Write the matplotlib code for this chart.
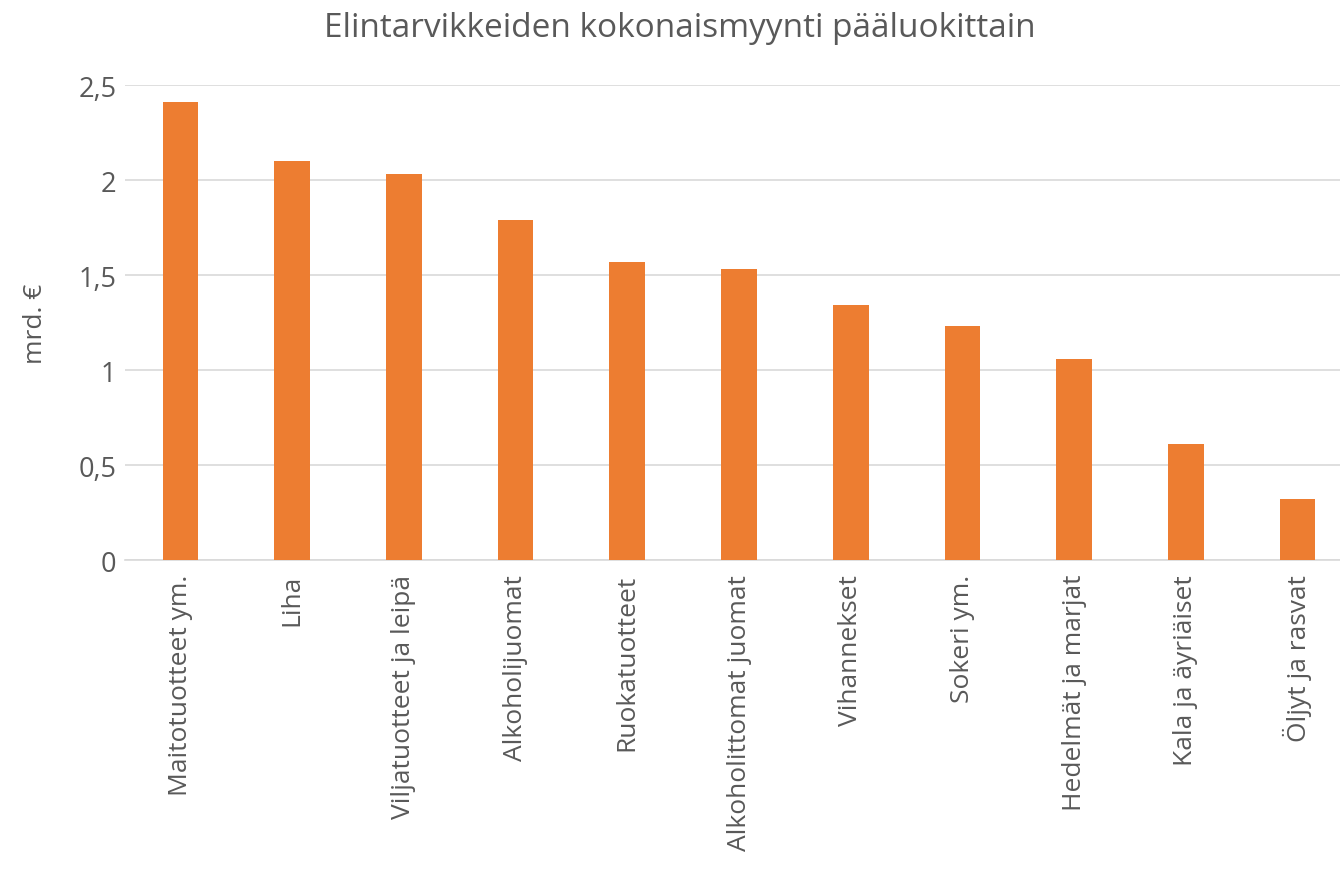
import matplotlib.pyplot as plt
from matplotlib.ticker import FuncFormatter

categories = ["Maitotuotteet ym.", "Liha", "Viljatuotteet ja leipä", "Alkoholijuomat",
              "Ruokatuotteet", "Alkoholittomat juomat", "Vihannekset", "Sokeri ym.",
              "Hedelmät ja marjat", "Kala ja äyriäiset", "Öljyt ja rasvat"]
values = [2.41, 2.10, 2.03, 1.79, 1.57, 1.53, 1.34, 1.23, 1.06, 0.61, 0.32]
yticks = [0, 0.5, 1, 1.5, 2, 2.5]

plt.rcParams['font.family'] = ['Open Sans', 'DejaVu Sans']
txt = '#595959'

fig = plt.figure(figsize=(13.4, 8.78), dpi=100)
# the plot area runs a little past the right edge of the picture
ax = fig.add_axes([0.093, 0.361, 0.917, 0.541])

x = range(len(categories))
ax.bar(x, values, width=0.32, color='#ED7D31', zorder=3)
ax.set_xlim(-0.5, len(categories) - 0.5)
ax.set_ylim(0, 2.5)
ax.set_yticks(yticks)
ax.yaxis.set_major_formatter(FuncFormatter(lambda v, p: f"{v:g}".replace('.', ',')))
ax.set_xticks(list(x))
ax.set_xticklabels(categories, rotation=90, fontsize=19, color=txt)
ax.tick_params(axis='y', labelsize=19.5, labelcolor=txt, length=0, pad=6)
ax.tick_params(axis='x', length=0, pad=10)
ax.grid(axis='y', color='#D9D9D9', linewidth=1.2, zorder=0)
for s in ['top', 'right', 'left']:
    ax.spines[s].set_visible(False)
ax.spines['bottom'].set_color('#D9D9D9')
ax.spines['bottom'].set_linewidth(1.2)
ax.set_ylabel("mrd. €", fontsize=19, color=txt, labelpad=22)
fig.text(0.507, 0.968, "Elintarvikkeiden kokonaismyynti pääluokittain",
         ha='center', va='center', fontsize=24, color=txt)

fig.savefig("out.png", dpi=100)
